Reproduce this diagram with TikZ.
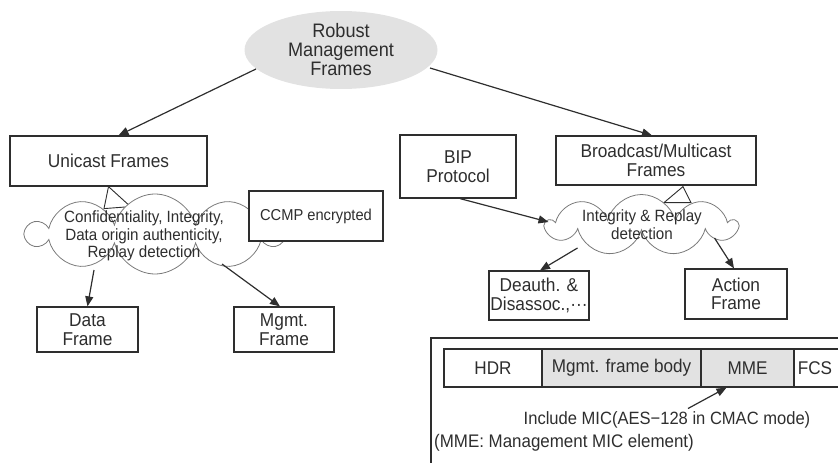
\documentclass[tikz,border=0pt]{standalone}
\usepackage{fontspec}
\setmainfont{Liberation Sans}[FakeStretch=0.93]
\usetikzlibrary{shapes.symbols,shapes.geometric,arrows.meta,calc}
\definecolor{lg}{HTML}{E2E2E2}
\definecolor{ink}{HTML}{2E2E2E}
\definecolor{cl}{HTML}{7A7A7A}
\begin{document}
\begin{tikzpicture}[x=1pt,y=-1pt,
  box/.style={draw=ink, line width=1.2pt, fill=white, inner sep=0pt, align=center, text=ink, font=\fontsize{18.6}{18.5}\selectfont},
  cell/.style={draw=ink, line width=1.2pt, inner sep=0pt, minimum height=38pt, text=ink, font=\fontsize{18.4}{19}\selectfont},
  arr/.style={draw=ink, line width=1.2pt, -{Triangle[length=10pt,width=8pt]}},
  puff/.style={cloud, draw=cl, line width=0.8pt, fill=white, inner sep=0pt},
  tail/.style={draw=ink, line width=0.9pt, fill=white},
  txt/.style={text=ink, inner sep=1pt, align=center},
]
\useasboundingbox (0,0) rectangle (838,463);
\clip (0,0) rectangle (838,463);

% top ellipse
\node[ellipse, fill=lg, draw=none, minimum width=193pt, minimum height=78pt, inner sep=0pt,
      align=center, text=ink, font=\fontsize{19.5}{19}\selectfont] (rmf) at (341,50) {Robust\\Management\\Frames};

% boxes
\node[box, minimum width=197pt, minimum height=50pt] (uni) at (108.5,161) {Unicast Frames};
\node[box, minimum width=116pt, minimum height=63pt] (bip) at (458,166.5) {BIP\\Protocol};
\node[box, minimum width=200pt, minimum height=49pt] (bmf) at (656,160.5) {Broadcast/Multicast\\Frames};

% cloud tails
\draw[tail] ($(uni.south)+(-4.5,22)$) -- ($(uni.south)+(0,0)$) -- ($(uni.south)+(22,20)$) -- cycle;
\draw[tail] ($(bmf.south)+(8,17)$) -- ($(bmf.south)+(27,1)$) -- ($(bmf.south)+(35,17)$) -- cycle;

% clouds
\node[puff, cloud puffs=10, aspect=3.2, minimum width=254pt, minimum height=80pt] (c1) at (155,234) {};
\node[puff, cloud puffs=9, aspect=3.1, minimum width=189pt, minimum height=61pt] (c2) at (641.5,225) {};
\node[txt, font=\fontsize{16.3}{17.6}\selectfont] (c1t) at (144,236) {Confidentiality, Integrity,\\Data origin authenticity,\\Replay detection};
\node[txt, font=\fontsize{16.3}{18}\selectfont] (c2t) at (642,225) {Integrity \& Replay\\detection};

\node[box, minimum width=134pt, minimum height=50pt, font=\fontsize{15.8}{17}\selectfont] (ccmp) at (316,216) {CCMP encrypted};

\node[box, minimum width=101pt, minimum height=45pt] (dat) at (87.5,329.5) {Data\\Frame};
\node[box, minimum width=100pt, minimum height=45pt] (mgf) at (284,329.5) {Mgmt.\\Frame};
\node[box, minimum width=100pt, minimum height=49pt] (dea) at (539,295.5) {Deauth. \&\\Disassoc.,···};
\node[box, minimum width=102pt, minimum height=50pt] (act) at (736,294) {Action\\Frame};

% arrows
\draw[arr] ($(rmf.center)+(-85,19)$) -- ($(uni.north)+(10,0)$);
\draw[arr] ($(rmf.center)+(89,18)$) -- ($(bmf.north)+(-4,0)$);
\draw[arr] ($(bip.south)+(2,0)$) -- ($(c2.center)+(-93,-3)$);
\draw[arr] ($(c1.center)+(-61,36)$) -- (dat.north);
\draw[arr] ($(c1.center)+(67,30)$) -- ($(mgf.north)+(-4,0)$);
\draw[arr] ($(c2.center)+(-64,23)$) -- ($(dea.north)+(1,0)$);
\draw[arr] ($(c2.center)+(73,13)$) -- ($(act.north)+(-2,0)$);

% bottom frame panel
\draw[draw=ink, line width=1.2pt] (431,470) -- (431,338) -- (850,338);
\node[cell, minimum width=98pt, fill=white] (hdr) at (493,368) {HDR};
\node[cell, minimum width=159pt, fill=lg] (mfb) at (621.5,368) {Mgmt. frame body};
\node[cell, minimum width=93pt, fill=lg] (mme) at (747.5,368) {MME};
\node[cell, minimum width=56pt, fill=white] (fcs) at (822,368) {};
\node[txt, font=\fontsize{18.4}{19}\selectfont] (fcst) at (815,368) {FCS};

\node[txt, font=\fontsize{17.8}{19}\selectfont] (mic) at (667,420) {Include MIC(AES\textminus128 in CMAC mode)};
\draw[arr] ($(mic.north)+(21,-2)$) -- ($(mme.south)+(-21,0)$);
\node[txt, anchor=west, font=\fontsize{18.2}{19}\selectfont] (mmenote) at (433,443) {(MME: Management MIC element)};
\end{tikzpicture}
\end{document}
